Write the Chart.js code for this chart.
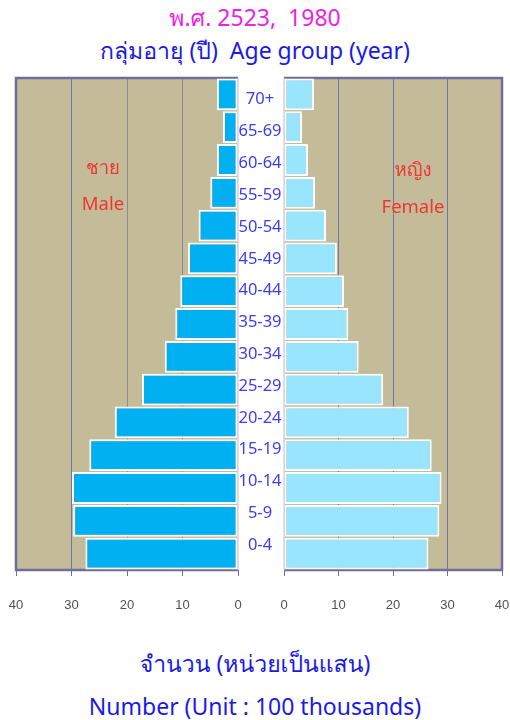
<!DOCTYPE html>
<html>
<head>
<meta charset="utf-8">
<script src="https://cdn.jsdelivr.net/npm/chart.js@4"></script>
<style>
    body { margin: 0; width: 510px; height: 720px; background: #fff; position: relative; overflow: hidden;
           font-family: "Noto Sans", "Loma", "Waree", "Garuda", "Noto Sans Thai Looped", "Noto Sans Thai", sans-serif; }
    .txt { position: absolute; left: 0; width: 510px; text-align: center; white-space: pre; line-height: 30px; font-size: 23px; }
    .note { position: absolute; color: #f03434; font-size: 18.5px; text-align: center; width: 100px; line-height: 24px; }
    canvas { position: absolute; }
</style>
</head>
<body>
<div class="txt" style="top:2px; color:#f01ee6;">พ.ศ. 2523,  1980</div>
<div class="txt" style="top:35px; color:#1a1ae8;">กลุ่มอายุ (ปี)  Age group (year)</div>

<div style="position:absolute; left:0; top:70px; width:245px; height:560px;"><canvas id="maleChart"></canvas></div>
<div style="position:absolute; left:236px; top:70px; width:274px; height:560px;"><canvas id="femaleChart"></canvas></div>

<div class="note" style="left:53px; top:155px;">ชาย</div>
<div class="note" style="left:53px; top:191px;">Male</div>
<div class="note" style="left:363px; top:157px;">หญิง</div>
<div class="note" style="left:363px; top:194px;">Female</div>

<div class="txt" style="top:648px; color:#1a1ae8;">จำนวน (หน่วยเป็นแสน)</div>
<div class="txt" style="top:691px; color:#1a1ae8;">Number (Unit : 100 thousands)</div>

<script>
// ===================================
// DATA
// ===================================

const ageGroups = ['0-4', '5-9', '10-14', '15-19', '20-24', '25-29', '30-34',
                   '35-39', '40-44', '45-49', '50-54', '55-59', '60-64', '65-69', '70+'];
const maleValues = [27.5, 29.7, 29.9, 26.8, 22.2, 17.3, 13.2, 11.3, 10.4, 9.0, 7.1, 5.0, 3.8, 2.7, 3.8];
const femaleValues = [26.5, 28.5, 28.9, 27.1, 22.9, 18.2, 13.7, 11.8, 11.0, 9.7, 7.7, 5.7, 4.4, 3.3, 5.5];
const xTicks = [0, 10, 20, 30, 40];

const PANEL_BG = '#c4bc98';
const FRAME = '#6e6ca0';
const GRID = '#7472a6';
const ZERO_LINE = '#d4d4ec';

// ===================================
// PLUGINS
// ===================================

// tan plot background + frame (dark on the outer sides, light at zero)
const panelPlugin = {
    id: 'panel',
    beforeDraw(chart, args, opts) {
        const { ctx, chartArea: a } = chart;
        ctx.save();
        ctx.fillStyle = PANEL_BG;
        ctx.fillRect(a.left, a.top, a.right - a.left, a.bottom - a.top);
        ctx.restore();
    },
    beforeDatasetsDraw(chart, args, opts) {
        const { ctx, chartArea: a } = chart;
        ctx.save();
        ctx.lineWidth = 2.5;
        ctx.strokeStyle = FRAME;
        ctx.beginPath();
        if (opts.side === 'left') {
            ctx.moveTo(a.right, a.top);
            ctx.lineTo(a.left, a.top);
            ctx.lineTo(a.left, a.bottom);
            ctx.lineTo(a.right, a.bottom);
        } else {
            ctx.moveTo(a.left, a.top);
            ctx.lineTo(a.right, a.top);
            ctx.lineTo(a.right, a.bottom);
            ctx.lineTo(a.left, a.bottom);
        }
        ctx.stroke();
        ctx.strokeStyle = ZERO_LINE;
        ctx.lineWidth = 1.5;
        ctx.beginPath();
        const zx = opts.side === 'left' ? a.right : a.left;
        ctx.moveTo(zx, a.top);
        ctx.lineTo(zx, a.bottom);
        ctx.stroke();
        ctx.restore();
    }
};

// age labels in the middle column, a little tighter than the bar rows
const ageLabelPlugin = {
    id: 'ageLabels',
    afterDraw(chart) {
        const { ctx } = chart;
        const y = chart.scales.y;
        const mid = (y.top + y.bottom) / 2;
        ctx.save();
        ctx.fillStyle = '#3c3cf0';
        ctx.font = '16.5px "Noto Sans"';
        ctx.textAlign = 'center';
        ctx.textBaseline = 'middle';
        ageGroups.forEach((lab, i) => {
            const py = mid - 1.5 + (y.getPixelForValue(i) - mid) * 0.97;
            ctx.fillText(lab, y.left + y.width / 2, py);
        });
        ctx.restore();
    }
};

function xScale(reverse, gridFn) {
    return {
        type: 'linear',
        min: 0,
        max: 40,
        reverse: reverse,
        afterBuildTicks: (axis) => { axis.ticks = xTicks.map(v => ({ value: v })); },
        afterFit: (axis) => {
            axis.height = 60;
            axis.paddingLeft = 0;
            axis.paddingRight = 0;
        },
        grid: {
            color: gridFn,
            lineWidth: 1,
            tickLength: 6,
            tickColor: FRAME,
            drawOnChartArea: true
        },
        border: { display: false },
        ticks: {
            color: '#505050',
            font: { family: 'Liberation Sans', size: 13 },
            padding: 22,
            maxRotation: 0
        }
    };
}

function barDataset(values, color) {
    return {
        data: values,
        backgroundColor: color,
        borderColor: '#ffffff',
        borderWidth: 2,
        borderSkipped: false,
        barPercentage: 0.97,
        categoryPercentage: 1.0
    };
}

const hideEdges = (c) => c.tick && (c.tick.value === 0 || c.tick.value === 40);

// ===================================
// CHARTS
// ===================================

new Chart(document.getElementById('maleChart'), {
    type: 'bar',
    data: { labels: ageGroups, datasets: [barDataset(maleValues, '#00b0f0')] },
    plugins: [panelPlugin],
    options: {
        indexAxis: 'y',
        responsive: true,
        maintainAspectRatio: false,
        animation: false,
        layout: { padding: { left: 16, right: 7, top: 8, bottom: 0 } },
        plugins: {
            legend: { display: false },
            tooltip: { enabled: false },
            panel: { side: 'left' }
        },
        scales: {
            x: xScale(true, (c) => hideEdges(c) ? 'rgba(0,0,0,0)' : (c.tick.value === 30 ? GRID : '#8c8a98')),
            y: { reverse: true, display: false }
        }
    }
});

new Chart(document.getElementById('femaleChart'), {
    type: 'bar',
    data: { labels: ageGroups, datasets: [barDataset(femaleValues, '#99e5fd')] },
    plugins: [panelPlugin, ageLabelPlugin],
    options: {
        indexAxis: 'y',
        responsive: true,
        maintainAspectRatio: false,
        animation: false,
        layout: { padding: { left: 0, right: 8, top: 8, bottom: 0 } },
        plugins: {
            legend: { display: false },
            tooltip: { enabled: false },
            panel: { side: 'right' }
        },
        scales: {
            x: xScale(false, (c) => hideEdges(c) ? 'rgba(0,0,0,0)' : GRID),
            y: {
                reverse: true,
                position: 'left',
                afterFit: (axis) => { axis.width = 48; },
                grid: { display: false },
                border: { display: false },
                ticks: { display: false }
            }
        }
    }
});
</script>
</body>
</html>
